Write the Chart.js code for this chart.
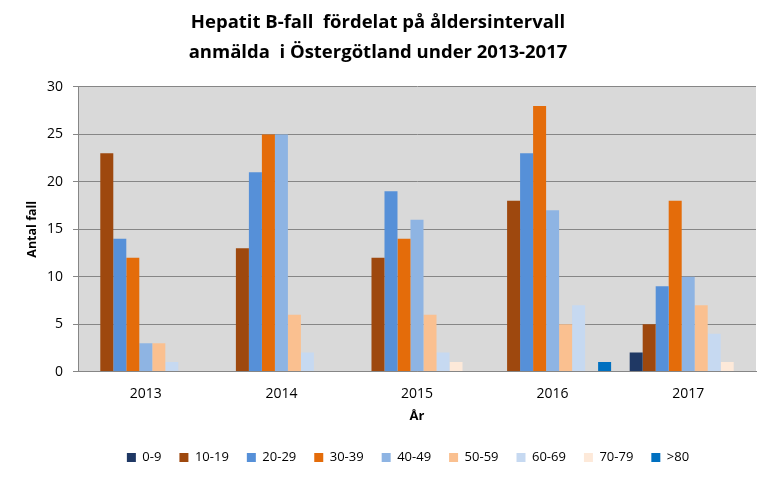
<!DOCTYPE html>
<html>
<head>
<meta charset="utf-8">
<script src="https://cdn.jsdelivr.net/npm/chart.js@4/dist/chart.umd.min.js"></script>
<style>
  html, body { margin: 0; padding: 0; background: #fff; }
  #wrap { width: 776px; height: 492px; }
</style>
</head>
<body>
<div id="wrap"><canvas id="hepb"></canvas></div>
<script>
const years = ['2013', '2014', '2015', '2016', '2017'];
const ageGroups = ['0-9', '10-19', '20-29', '30-39', '40-49', '50-59', '60-69', '70-79', '>80'];
const colors = ['#1F3864', '#9E480E', '#5690D8', '#E46C0A', '#8EB4E3', '#FAC090', '#C6D9F1', '#FDE9D9', '#0070C0'];

const age0_9   = [0, 0, 0, 0, 2];
const age10_19 = [23, 13, 12, 18, 5];
const age20_29 = [14, 21, 19, 23, 9];
const age30_39 = [12, 25, 14, 28, 18];
const age40_49 = [3, 25, 16, 17, 10];
const age50_59 = [3, 6, 6, 5, 7];
const age60_69 = [1, 2, 2, 7, 4];
const age70_79 = [0, 0, 1, 0, 1];
const age80    = [0, 0, 0, 1, 0];

const series = [age0_9, age10_19, age20_29, age30_39, age40_49, age50_59, age60_69, age70_79, age80];

// grey plot area + nudge legend so it sits under the plot like in Excel
const plotBg = {
  id: 'plotBg',
  afterLayout(chart) {
    const lg = chart.legend;
    lg.left += 30;
    lg.right += 30;
  },
  beforeDraw(chart) {
    const a = chart.chartArea, ctx = chart.ctx;
    ctx.save();
    ctx.fillStyle = '#D9D9D9';
    ctx.fillRect(a.left, a.top, a.right - a.left, a.bottom - a.top);
    ctx.restore();
  }
};

const font = "'Open Sans', 'Liberation Sans', sans-serif";

new Chart(document.getElementById('hepb'), {
  type: 'bar',
  data: {
    labels: years,
    datasets: series.map((vals, i) => ({
      label: ageGroups[i],
      data: vals,
      backgroundColor: colors[i],
      borderWidth: 0,
      categoryPercentage: 0.863,
      barPercentage: 1.0
    }))
  },
  plugins: [plotBg],
  options: {
    responsive: true,
    maintainAspectRatio: false,
    animation: false,
    layout: { padding: { left: 0, right: 20, top: 8, bottom: 18 } },
    plugins: {
      title: {
        display: true,
        text: ['Hepatit B-fall  fördelat på åldersintervall', 'anmälda  i Östergötland under 2013-2017'],
        color: '#000',
        font: { family: font, size: 18.5, weight: 'bold', lineHeight: 1.62 },
        padding: { top: 0, bottom: 19 }
      },
      legend: {
        position: 'bottom',
        labels: {
          color: '#000',
          boxWidth: 9,
          boxHeight: 9,
          padding: 18,
          font: { family: font, size: 13 }
        }
      },
      tooltip: { enabled: false }
    },
    scales: {
      x: {
        grid: { display: false },
        border: { color: '#868686' },
        ticks: { color: '#000', font: { family: font, size: 14 }, padding: 6 },
        title: { display: true, text: 'År', color: '#000', font: { family: font, size: 13, weight: 'bold' }, padding: { top: 0, bottom: 9 } }
      },
      y: {
        min: 0,
        max: 30,
        ticks: { stepSize: 5, color: '#000', font: { family: font, size: 14 }, padding: 10 },
        grid: { color: '#868686', tickLength: 5, drawTicks: true },
        border: { color: '#868686' },
        title: { display: true, text: 'Antal fall', color: '#000', font: { family: font, size: 12.5, weight: 'bold' }, padding: { top: 25, bottom: 0 } },
        afterFit(scale) { scale.width = 78; }
      }
    }
  }
});
</script>
</body>
</html>
